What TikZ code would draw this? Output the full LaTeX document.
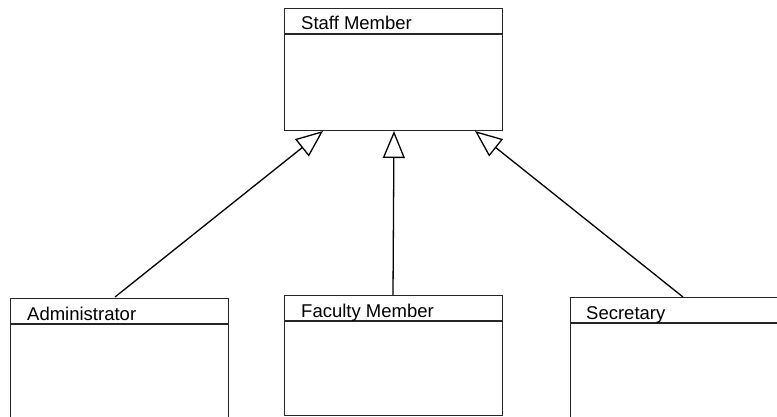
\documentclass[tikz,border=0pt]{standalone}
\usepackage{fontspec}
\setmainfont{Liberation Sans}
\usetikzlibrary{arrows.meta}
\begin{document}
\begin{tikzpicture}[x=1pt,y=-1pt,
  classbox/.style={draw=black!85, line width=1.1pt, fill=white, anchor=north west,
    inner sep=0pt, minimum width=218pt},
  classname/.style={anchor=base west, inner sep=0pt, font=\fontsize{18.5}{21}\selectfont},
  inherit/.style={draw=black, line width=1.3pt,
    -{Triangle[open, length=27pt, width=22pt, line width=1.3pt]}}]
\useasboundingbox (0,0) rectangle (777,417);
\clip (0,0) rectangle (777,417);
% class boxes
\node[classbox, minimum height=122pt] (staff) at (284,8) {};
\node[classbox, minimum height=140pt] (admin) at (10,298) {};
\node[classbox, minimum height=120pt] (fac) at (284,295) {};
\node[classbox, minimum height=140pt] (sec) at (570,297) {};
% name compartments
\draw[draw=black!85, line width=1.1pt] ([yshift=-26pt]staff.north west) -- ([yshift=-26pt]staff.north east);
\draw[draw=black!85, line width=1.1pt] ([yshift=-26pt]admin.north west) -- ([yshift=-26pt]admin.north east);
\draw[draw=black!85, line width=1.1pt] ([yshift=-26pt]fac.north west) -- ([yshift=-26pt]fac.north east);
\draw[draw=black!85, line width=1.1pt] ([yshift=-26pt]sec.north west) -- ([yshift=-26pt]sec.north east);
% class names
\node[classname] (staffname) at (301,30) {Staff Member};
\node[classname] (adminname) at (27,320) {Administrator};
\node[classname] (facname) at (301,317) {Faculty Member};
\node[classname] (secname) at (586,319) {Secretary};
% attachment points
\coordinate (a1) at (115,297);
\coordinate (a2) at (393,295);
\coordinate (a3) at (683,297);
\coordinate (t1) at (323,131);
\coordinate (t2) at (394,131);
\coordinate (t3) at (475,131);
% generalisation arrows
\draw[inherit] (a1) -- (t1);
\draw[inherit] (a2) -- (t2);
\draw[inherit] (a3) -- (t3);
\end{tikzpicture}
\end{document}
